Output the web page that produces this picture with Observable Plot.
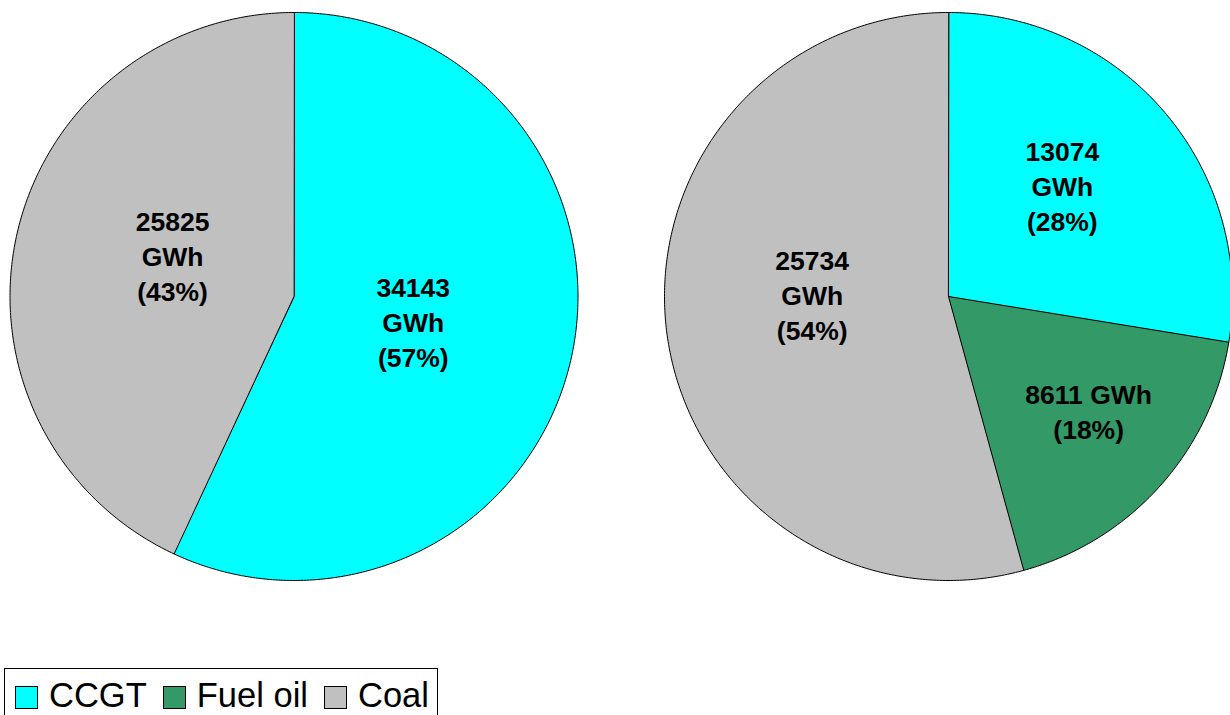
<!DOCTYPE html>
<html>
<head>
<meta charset="utf-8">
<script src="https://cdn.jsdelivr.net/npm/d3@7"></script>
<script src="https://cdn.jsdelivr.net/npm/@observablehq/plot@0.6"></script>
<style>
  html, body { margin: 0; padding: 0; background: #fff; overflow: hidden; }
  #wrap { position: relative; width: 1230px; height: 715px; font-family: "Liberation Sans", Arial, sans-serif; }
  #legend { position: absolute; left: 4px; top: 668px; width: 434px; height: 58px; border: 1px solid #000;
            box-sizing: border-box; display: flex; align-items: flex-start; padding-left: 10px; white-space: nowrap; }
  .sw { flex: none; width: 23px; height: 23px; border: 1px solid #000; box-sizing: border-box; margin-right: 11px; margin-top: 17px; }
  .lab { flex: none; font-size: 34.5px; color: #000; margin-right: 16px; line-height: 1; margin-top: 9px; white-space: nowrap; }
</style>
</head>
<body>
<div id="wrap"><div id="chart"></div><div id="legend"></div></div>
<script>
// ---- data ----
const categories = ["CCGT", "Fuel oil", "Coal"];
const colors = ["#00FFFF", "#339966", "#C0C0C0"];
const leftCategories = ["CCGT", "Coal"];
const leftValues = [34143, 25825];
const rightCategories = ["CCGT", "Fuel oil", "Coal"];
const rightValues = [13074, 8611, 25734];
const unit = "GWh";

// ---- layout ----
const W = 1230, H = 660;
const pies = [
  {cx: 293.5, cy: 296, r: 284, cats: leftCategories, vals: leftValues,
   labelR: [0.43, 0.45], labelTurn: [0, 5.7], inline: [false, false]},
  {cx: 948, cy: 296, r: 284, cats: rightCategories, vals: rightValues,
   labelR: [0.557, 0.64, 0.48], labelTurn: [-3.6, -2.4, 8.1], inline: [false, true, false]}
];

const slicePts = [];
const labels = [];
pies.forEach((p, pi) => {
  const total = d3.sum(p.vals);
  let acc = 0;
  p.vals.forEach((v, i) => {
    const a0 = acc / total * 2 * Math.PI;
    acc += v;
    const a1 = acc / total * 2 * Math.PI;
    const id = pi + "-" + i;
    const cat = p.cats[i];
    slicePts.push({id, cat, x: p.cx, y: p.cy});
    const n = Math.max(4, Math.ceil((a1 - a0) / 0.01));
    for (let k = 0; k <= n; k++) {
      const a = a0 + (a1 - a0) * k / n;
      slicePts.push({id, cat, x: p.cx + p.r * Math.sin(a), y: p.cy - p.r * Math.cos(a)});
    }
    const am = (a0 + a1) / 2 + p.labelTurn[i] * Math.PI / 180;
    const lr = p.r * p.labelR[i];
    const pct = Math.round(v / total * 100);
    labels.push({
      x: p.cx + lr * Math.sin(am),
      y: p.cy - lr * Math.cos(am),
      text: v + (p.inline[i] ? " " : "\n") + unit + "\n(" + pct + "%)"
    });
  });
});

const chart = Plot.plot({
  width: W, height: H,
  margin: 0,
  x: {domain: [0, W], range: [0, W], axis: null},
  y: {domain: [0, H], range: [0, H], axis: null},
  color: {domain: categories, range: colors},
  style: {fontFamily: "'Liberation Sans', Arial, sans-serif", background: "#fff", overflow: "hidden"},
  marks: [
    Plot.line(slicePts, {x: "x", y: "y", z: "id", fill: "cat", stroke: "#000", strokeWidth: 1, curve: "linear-closed", strokeLinejoin: "round"}),
    Plot.text(labels, {x: "x", y: "y", text: "text", fontSize: 26.5, fontWeight: "bold", lineHeight: 1.32, fill: "#000", lineAnchor: "middle", dy: -2})
  ]
});
document.getElementById("chart").appendChild(chart);

const legend = document.getElementById("legend");
categories.forEach((c, i) => {
  const sw = document.createElement("div");
  sw.className = "sw";
  sw.style.background = colors[i];
  const t = document.createElement("div");
  t.className = "lab";
  t.textContent = c;
  legend.appendChild(sw);
  legend.appendChild(t);
});
</script>
</body>
</html>
